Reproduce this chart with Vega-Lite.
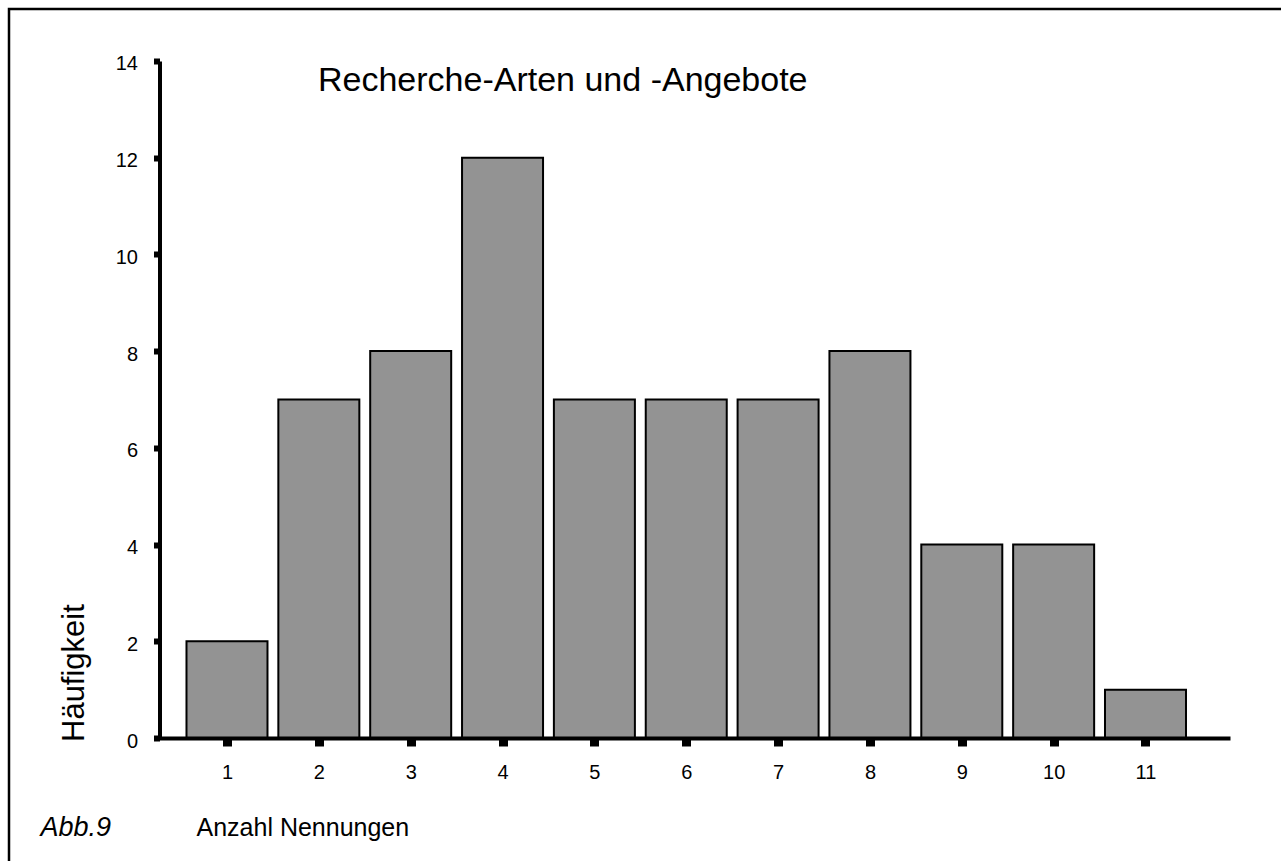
{
  "$schema": "https://vega.github.io/schema/vega-lite/v6.json",
  "width": 1272,
  "height": 852,
  "autosize": {"type": "none"},
  "padding": {"left": 9, "top": 9, "right": 0, "bottom": 0},
  "background": "white",
  "config": {
    "font": "Liberation Sans",
    "view": {"stroke": "black", "strokeWidth": 2.5, "fill": null, "strokeDash": [1272, 2124, 852], "strokeDashOffset": 0}
  },
  "title": {
    "text": "Recherche-Arten und -Angebote",
    "anchor": "start",
    "frame": "group",
    "fontSize": 34,
    "fontWeight": "normal",
    "font": "Liberation Sans",
    "color": "black",
    "baseline": "alphabetic",
    "offset": 0,
    "dx": 309,
    "dy": 116
  },
  "data": {
    "values": [
      {"nennungen": 1, "haeufigkeit": 2},
      {"nennungen": 2, "haeufigkeit": 7},
      {"nennungen": 3, "haeufigkeit": 8},
      {"nennungen": 4, "haeufigkeit": 12},
      {"nennungen": 5, "haeufigkeit": 7},
      {"nennungen": 6, "haeufigkeit": 7},
      {"nennungen": 7, "haeufigkeit": 7},
      {"nennungen": 8, "haeufigkeit": 8},
      {"nennungen": 9, "haeufigkeit": 4},
      {"nennungen": 10, "haeufigkeit": 4},
      {"nennungen": 11, "haeufigkeit": 1}
    ]
  },
  "layer": [
    {
      "mark": {"type": "bar", "orient": "vertical", "width": 81, "fill": "#939393", "stroke": "black", "strokeWidth": 2},
      "encoding": {
        "x": {
          "field": "nennungen",
          "type": "quantitative",
          "scale": {"domain": [0.238, 11.92], "range": [148, 1221], "nice": false, "zero": false, "padding": 0},
          "axis": {
            "orient": "bottom",
            "offset": -123,
            "zindex": 1,
            "values": [1, 2, 3, 4, 5, 6, 7, 8, 9, 10, 11],
            "format": "d",
            "grid": false,
            "domainColor": "black",
            "domainWidth": 4,
            "tickColor": "black",
            "tickWidth": 9,
            "tickSize": 8,
            "labelFont": "Liberation Sans",
            "labelFontSize": 20,
            "labelColor": "black",
            "labelPadding": 16,
            "labelFlush": false,
            "title": "Anzahl Nennungen",
            "titleFont": "Liberation Sans",
            "titleFontSize": 25,
            "titleFontWeight": "normal",
            "titleColor": "black",
            "titleX": 187,
            "titleY": 97,
            "titleAlign": "left",
            "titleAnchor": "start",
            "titleBaseline": "alphabetic"
          }
        },
        "y": {
          "field": "haeufigkeit",
          "type": "quantitative",
          "scale": {"domain": [0, 14], "range": [729, 51.9], "nice": false, "zero": true},
          "axis": {
            "orient": "left",
            "offset": -150.5,
            "zindex": 1,
            "values": [0, 2, 4, 6, 8, 10, 12, 14],
            "format": "d",
            "grid": false,
            "domainColor": "black",
            "domainWidth": 4,
            "tickColor": "black",
            "tickWidth": 6,
            "tickSize": 6,
            "labelFont": "Liberation Sans",
            "labelFontSize": 20,
            "labelColor": "black",
            "labelPadding": 16,
            "labelOffset": 3,
            "labelFlush": false,
            "title": "Häufigkeit",
            "titleFont": "Liberation Sans",
            "titleFontSize": 31,
            "titleFontWeight": "normal",
            "titleColor": "black",
            "titleAngle": 270,
            "titleX": -76,
            "titleY": 732.5,
            "titleAlign": "left",
            "titleBaseline": "alphabetic"
          }
        }
      }
    },
    {
      "mark": {"type": "point", "opacity": 0},
      "encoding": {
        "x": {
          "field": "nennungen",
          "type": "quantitative",
          "axis": {
            "orient": "top",
            "offset": 0,
            "domain": false,
            "ticks": false,
            "labels": false,
            "grid": false,
            "title": "Abb.9",
            "titleFont": "Liberation Sans",
            "titleFontSize": 27,
            "titleFontWeight": "normal",
            "titleFontStyle": "italic",
            "titleColor": "black",
            "titleX": 31,
            "titleY": 826,
            "titleAlign": "left",
            "titleAnchor": "start",
            "titleBaseline": "alphabetic"
          }
        }
      }
    }
  ],
  "resolve": {"axis": {"x": "independent"}}
}
